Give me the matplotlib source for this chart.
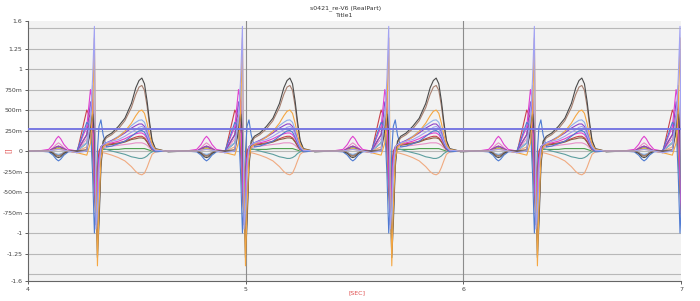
import matplotlib
matplotlib.use("Agg")
from matplotlib import pyplot as plt

# R-peak times of the beats (s)
beat_times = [4.305, 4.985, 5.657, 6.326, 6.995]

# sample offsets around each R peak (s): P wave, QRS, T wave
offsets = [-0.34, -0.26, -0.21, -0.19, -0.175, -0.165, -0.155, -0.14, -0.12,
           -0.08, -0.035, -0.018, -0.008, 0.0, 0.007, 0.014, 0.021, 0.03, 0.04,
           0.055, 0.08, 0.11, 0.14, 0.17, 0.19, 0.205, 0.218, 0.23, 0.242, 0.253, 0.265, 0.28, 0.325]

# one beat per lead
lead_dark = [-0.01, 0.0, 0.0, -0.03, -0.07, -0.08, -0.07, -0.03, 0.0,
             0.0, 0.0, 0.25, 0.45, 0.2, -0.6, -1.30, -0.9, -0.2, 0.12,
             0.18, 0.22, 0.30, 0.40, 0.58, 0.77, 0.86, 0.89, 0.82, 0.61, 0.36, 0.13, 0.03, 0.0]
lead_brown = [0.0, 0.0, 0.0, -0.02, -0.05, -0.06, -0.05, -0.02, 0.0,
              0.0, 0.02, 0.3, 0.5, 0.3, -0.3, -1.1, -0.8, -0.15, 0.1,
              0.16, 0.2, 0.27, 0.37, 0.53, 0.69, 0.78, 0.80, 0.74, 0.55, 0.32, 0.12, 0.02, 0.0]
lead_orange = [0.0, 0.0, 0.0, 0.01, 0.025, 0.03, 0.025, 0.01, 0.0,
               -0.02, -0.05, 0.1, 0.5, 1.38, -0.3, -1.40, -0.7, -0.1, 0.05,
               0.08, 0.12, 0.17, 0.24, 0.34, 0.43, 0.485, 0.50, 0.46, 0.34, 0.2, 0.08, 0.02, 0.0]
lead_lilac = [0.0, 0.0, 0.0, 0.01, 0.017, 0.02, 0.017, 0.01, 0.0,
              -0.02, 0.0, 0.4, 0.9, 1.52, -0.95, -0.7, -0.2, 0.05, 0.08,
              0.1, 0.12, 0.14, 0.18, 0.23, 0.26, 0.29, 0.30, 0.28, 0.2, 0.12, 0.05, 0.01, 0.0]
lead_peach = [0.0, 0.0, 0.0, 0.01, 0.017, 0.02, 0.017, 0.01, 0.0,
              0.0, 0.05, 0.3, 0.2, -0.4, -0.7, -0.5, -0.2, -0.05, -0.02,
              -0.03, -0.05, -0.08, -0.12, -0.19, -0.25, -0.28, -0.29, -0.27, -0.2, -0.12, -0.04, -0.01, 0.0]
lead_blue = [0.0, 0.0, -0.01, -0.05, -0.10, -0.12, -0.10, -0.05, -0.01,
             0.0, 0.35, 0.3, -0.3, -1.0, -0.6, 0.0, 0.3, 0.38, 0.2,
             0.05, 0.06, 0.09, 0.12, 0.18, 0.22, 0.245, 0.25, 0.23, 0.17, 0.1, 0.03, -0.01, 0.0]
lead_magenta = [0.0, 0.0, 0.02, 0.08, 0.15, 0.18, 0.15, 0.08, 0.02,
                0.0, 0.3, 0.75, 0.6, -0.2, -0.7, -0.4, -0.1, 0.02, 0.06,
                0.08, 0.1, 0.12, 0.15, 0.19, 0.21, 0.22, 0.22, 0.2, 0.15, 0.09, 0.03, 0.01, 0.0]
lead_violet = [0.0, 0.0, 0.0, 0.03, 0.05, 0.06, 0.05, 0.03, 0.0,
               0.0, 0.2, 0.6, 0.45, -0.3, -0.85, -0.5, -0.1, 0.05, 0.08,
               0.1, 0.13, 0.17, 0.22, 0.28, 0.31, 0.33, 0.33, 0.3, 0.22, 0.13, 0.05, 0.01, 0.0]
lead_green = [0.0, 0.0, 0.0, 0.02, 0.035, 0.04, 0.035, 0.02, 0.0,
              0.0, 0.1, 0.3, 0.2, -0.2, -0.5, -0.3, -0.05, 0.0, 0.02,
              0.02, 0.02, 0.02, 0.03, 0.03, 0.03, 0.03, 0.03, 0.03, 0.02, 0.01, 0.0, 0.0, 0.0]
lead_teal = [0.0, 0.0, 0.0, -0.02, -0.04, -0.05, -0.04, -0.02, 0.0,
             0.0, 0.1, 0.2, 0.0, -0.5, -0.6, -0.3, -0.05, 0.02, 0.03,
             0.02, 0.0, -0.02, -0.04, -0.07, -0.08, -0.09, -0.09, -0.08, -0.06, -0.03, -0.01, 0.0, 0.0]
lead_red = [0.0, 0.0, 0.0, 0.03, 0.05, 0.06, 0.05, 0.03, 0.0,
            -0.02, 0.5, 0.4, 0.0, -0.4, -0.5, -0.2, 0.0, 0.05, 0.08,
            0.08, 0.09, 0.1, 0.12, 0.15, 0.17, 0.18, 0.18, 0.16, 0.12, 0.07, 0.02, 0.0, 0.0]
lead_umber = [0.0, 0.0, 0.0, -0.02, -0.05, -0.06, -0.05, -0.02, 0.0,
              0.0, 0.2, 0.4, 0.3, -0.5, -0.9, -0.6, -0.1, 0.05, 0.06,
              0.07, 0.08, 0.09, 0.11, 0.14, 0.15, 0.16, 0.16, 0.15, 0.11, 0.06, 0.02, 0.0, 0.0]
lead_skyblue = [0.0, 0.0, 0.0, -0.02, -0.035, -0.04, -0.035, -0.02, 0.0,
                0.0, 0.1, 0.4, 0.8, 0.3, -0.6, -0.9, -0.5, -0.1, 0.08,
                0.1, 0.13, 0.18, 0.24, 0.31, 0.35, 0.375, 0.38, 0.35, 0.26, 0.15, 0.06, 0.01, 0.0]
lead_pink = [0.0, 0.0, 0.0, 0.04, 0.08, 0.1, 0.08, 0.04, 0.0,
             0.0, 0.15, 0.45, 0.3, -0.3, -0.6, -0.3, -0.05, 0.02, 0.04,
             0.05, 0.06, 0.07, 0.08, 0.09, 0.1, 0.1, 0.1, 0.09, 0.07, 0.04, 0.01, 0.0, 0.0]

leads = [
    (lead_green, "#4ea04e"),
    (lead_teal, "#5c9e9e"),
    (lead_pink, "#e890c8"),
    (lead_red, "#c8404a"),
    (lead_umber, "#8a6040"),
    (lead_peach, "#f0aa80"),
    (lead_skyblue, "#8fb0e8"),
    (lead_violet, "#8e44c8"),
    (lead_magenta, "#e040d0"),
    (lead_blue, "#4d7ad2"),
    (lead_brown, "#a88070"),
    (lead_dark, "#4a4a4a"),
    (lead_orange, "#f5a742"),
    (lead_lilac, "#a3a3f2"),
]

threshold = 0.27

y_ticks = [-1.585, -1.25, -1.0, -0.75, -0.5, -0.25, 0.0, 0.25, 0.5, 0.75, 1.0, 1.25, 1.585]
y_labels = ["-1.6", "-1.25", "-1", "-750m", "-500m", "-250m", "0",
            "250m", "500m", "750m", "1", "1.25", "1.6"]
x_ticks = [4, 5, 6, 7]

fig = plt.figure(figsize=(7.0, 3.01), dpi=100)
ax = fig.add_axes([0.04, 0.0664, 0.933, 0.8636])
ax.set_facecolor("#f2f2f2")

for v in [-1.5, -1.25, -1.0, -0.75, -0.5, -0.25, 0.0, 0.25, 0.5, 0.75, 1.0, 1.25, 1.5]:
    ax.axhline(v, color="#b8b8b8", lw=0.8, zorder=0)
for v in [5, 6]:
    ax.axvline(v, color="#8c8c8c", lw=0.8, zorder=0)

for vals, col in leads:
    ts, ys = [], []
    for r in beat_times:
        ts += [r + o for o in offsets]
        ys += vals
    ax.plot(ts, ys, color=col, lw=0.8, zorder=2)

ax.axhline(threshold, color="#7878e2", lw=1.4, zorder=3)

ax.set_xlim(4, 7)
ax.set_ylim(-1.585, 1.585)
ax.set_yticks(y_ticks)
ax.set_yticklabels(y_labels)
ax.set_xticks(x_ticks)
ax.set_xticklabels([str(x) for x in x_ticks])
ax.tick_params(labelsize=4.5, colors="#444444", length=2.5, width=0.6, pad=1.5)
for s in ["top", "right"]:
    ax.spines[s].set_visible(False)
for s in ["left", "bottom"]:
    ax.spines[s].set_color("#666666")
    ax.spines[s].set_linewidth(0.8)

fig.text(0.493, 1 - 8 / 301, "s0421_re-V6 (RealPart)", ha="center", va="center",
         fontsize=4.5, color="#333333")
fig.text(0.493, 1 - 15.5 / 301, "Title1", ha="center", va="center",
         fontsize=4.5, color="#333333")
fig.text(0.51, 1 - 293 / 301, "[SEC]", ha="center", va="center", fontsize=4.5, color="#e05050")
fig.text(0.011, 0.5, "[]", ha="center", va="center", rotation=90, fontsize=5, color="#e05050")

fig.savefig("out.png", dpi=100)
